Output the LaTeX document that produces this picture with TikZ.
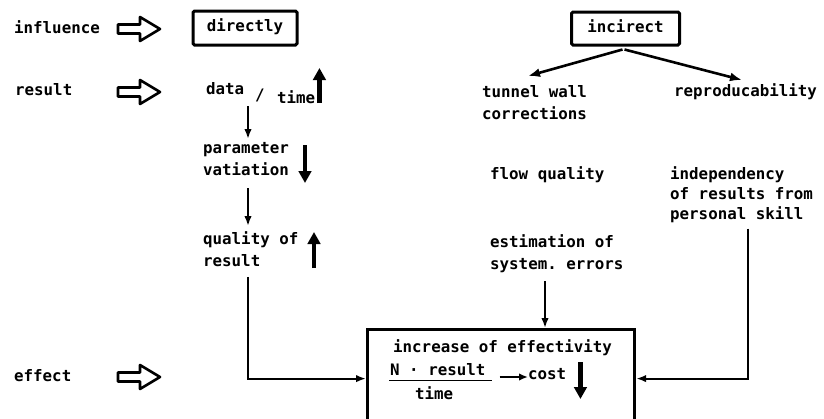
\documentclass[tikz,border=0pt]{standalone}
\usepackage{fontspec}
\setmonofont{DejaVu Sans Mono}
\usetikzlibrary{arrows.meta,calc}
\begin{document}
\begin{tikzpicture}[x=1pt,y=-1pt,
  every node/.style={font=\ttfamily\bfseries\fontsize{15.8}{22.5}\selectfont, inner sep=0pt},
  lbl/.style={anchor=west, text height=11pt, text depth=3.5pt},
  ml/.style={anchor=north west, align=left},
  frame/.style={draw, line width=3pt, rounded corners=1.5pt, text height=11pt, text depth=3.5pt},
  thinarr/.style={line width=2.1pt, -{Latex[length=10pt,width=7.5pt]}},
  incarr/.style={line width=2.6pt, -{Latex[length=12pt,width=9pt]}},
  thickarr/.style={line width=4.2pt, -{Triangle[length=12pt,width=12.5pt]}},
  hollow/.pic={\draw[line width=2.6pt, line join=round] (0,-4.5) -- (22,-4.5) -- (22,-12) -- (42,0) -- (22,12) -- (22,4.5) -- (0,4.5) -- cycle;}
]
\useasboundingbox (0,0) rectangle (824,418);
\clip (0,0) rectangle (824,418);

% left column labels
\node[lbl] (infl) at (14,30) {influence};
\pic at (118,29) {hollow};
\node[lbl] (res) at (15,92) {result};
\pic at (118,92) {hollow};
\node[lbl] (eff) at (14,378) {effect};
\pic at (118,377) {hollow};

% boxes
\node[frame, minimum width=104pt, minimum height=34pt] (dir) at (245,28) {directly};
\node[frame, minimum width=108pt, minimum height=33pt] (inc) at (625.5,28.5) {incirect};

% direct column
\coordinate (c1) at (248,0);
\node[lbl] (data) at (206,91) {data};
\node[lbl] (slash) at (255,97) {/};
\node[lbl] (time) at (277,100) {time};
\draw[thickarr] ($(time.east)+(4,3)$) -- ++(0,-35);
\node[ml] (param) at (203,142) {parameter\\vatiation};
\draw[thinarr] ($(c1 |- data.south)+(0,8)$) -- ($(c1 |- param.north)+(0,-3)$);
\draw[thickarr] (305,145) -- (305,183);
\node[ml] (qual) at (203,231) {quality of\\result};
\draw[thinarr] ($(c1 |- param.south)+(0,12)$) -- ($(c1 |- qual.north)+(0,-5)$);
\draw[thickarr] (314,268) -- (314,232);

% indirect column
\node[ml] (tunnel) at (482,85) {tunnel wall\\corrections};
\node[lbl] (repro) at (674,93) {reproducability};
\coordinate (t1) at (528,76);
\coordinate (t2) at (742,80);
\draw[incarr] ($(inc.south)+(-3,3)$) -- (t1);
\draw[incarr] ($(inc.south)+(-1,3)$) -- (t2);
\node[lbl] (flow) at (490,176) {flow quality};
\node[ml, font=\ttfamily\bfseries\fontsize{15.8}{20}\selectfont] (indep) at (670,166) {independency\\of results from\\personal skill};
\node[ml] (estim) at (490,234) {estimation of\\system. errors};

% effect box
\node[draw, line width=3.2pt, minimum width=267pt, minimum height=98pt, anchor=north west] (box) at (366,328) {};
\node[lbl] (incr) at (393,349) {increase of effectivity};
\node[lbl] (num) at (390,372) {N · result};
\draw[line width=1.6pt] ($(num.south west)+(-1,1)$) -- ($(num.south east)+(6,1)$);
\node[lbl] (den) at (415,396) {time};
\node[lbl] (cost) at (528,376) {cost};
\draw[line width=2pt, -{Latex[length=9pt,width=7.5pt]}] ($(num.east)+(14,5)$) -- ($(cost.west)+(0,1)$);
\draw[thickarr] ($(cost.east)+(14,-14)$) -- ++(0,37);

% connectors into the effect box
\coordinate (c2) at (545,0);
\coordinate (c3) at (748,0);
\draw[thinarr] ($(c1 |- qual.south)+(0,10)$) |- (box.west);
\draw[thinarr] ($(c2 |- estim.south)+(0,8)$) -- (c2 |- box.north);
\draw[thinarr] ($(c3 |- indep.south)+(0,6)$) |- (box.east);
\end{tikzpicture}
\end{document}
